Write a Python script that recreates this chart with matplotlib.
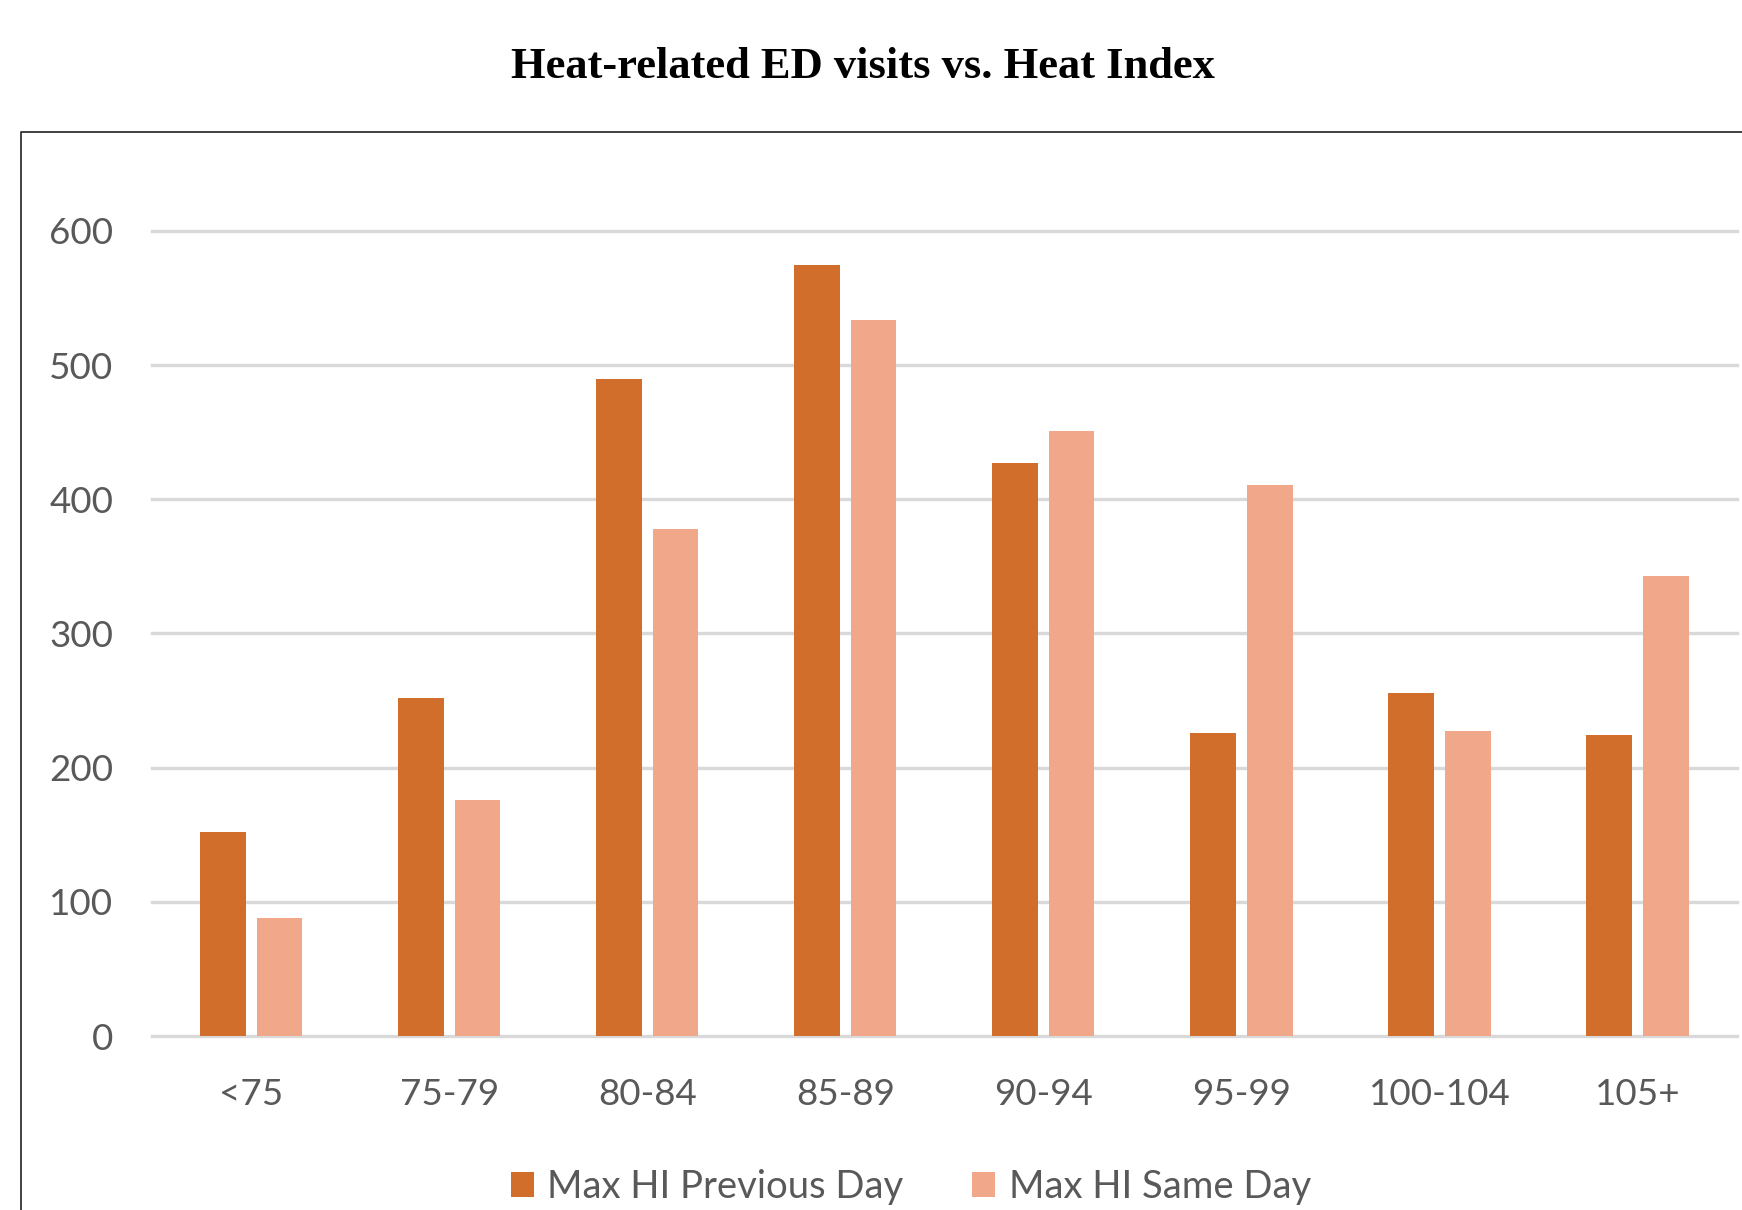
import matplotlib
matplotlib.use("Agg")
import matplotlib.pyplot as plt
import numpy as np
from matplotlib.lines import Line2D

categories = ["<75", "75-79", "80-84", "85-89", "90-94", "95-99", "100-104", "105+"]
prev_day = [152, 252, 490, 575, 427, 226, 256, 224]
same_day = [88, 176, 378, 534, 451, 411, 227, 343]
y_ticks = [0, 100, 200, 300, 400, 500, 600]

c_prev = "#D26E2B"
c_same = "#F0A78A"
txt = "#595959"

plt.rcParams["font.family"] = ["Lato", "DejaVu Sans"]

fig = plt.figure(figsize=(17.42, 12.10), dpi=100)
ax = fig.add_axes([0.0873, 0.1438, 0.9096, 0.6653])

x = np.arange(len(categories))
w = 0.23
off = 0.143
ax.bar(x - off, prev_day, w, color=c_prev, label="Max HI Previous Day", zorder=3)
ax.bar(x + off, same_day, w, color=c_same, label="Max HI Same Day", zorder=3)

ax.set_xlim(-0.5, len(categories) - 0.5)
ax.set_ylim(0, 600)
ax.set_yticks(y_ticks)
ax.set_xticks(x)
ax.set_xticklabels(categories)
for s in ax.spines.values():
    s.set_visible(False)
ax.tick_params(axis="both", length=0, labelsize=26.5, labelcolor=txt)
ax.tick_params(axis="y", pad=28)
ax.tick_params(axis="x", pad=30)
ax.yaxis.grid(True, color="#D9D9D9", linewidth=2.4, zorder=0)
for gl in ax.get_ygridlines():
    gl.set_clip_on(False)

fig.legend(loc="center", bbox_to_anchor=(0.523, 0.019), ncol=2, frameon=False,
           fontsize=27.5, labelcolor=txt, handlelength=0.6, handleheight=0.6,
           handletextpad=0.36, columnspacing=1.8)

fig.text(0.4954, 0.945, "Heat-related ED visits vs. Heat Index", ha="center", va="center",
         fontsize=32, fontweight="bold", family="Liberation Serif")

# outer chart frame (only left and top edges visible in the crop)
fig.add_artist(Line2D([0.0118, 0.0118, 1.01], [-0.01, 0.891, 0.891],
                      transform=fig.transFigure, color="#333333", linewidth=1.3))

plt.savefig("out.png", dpi=100)
